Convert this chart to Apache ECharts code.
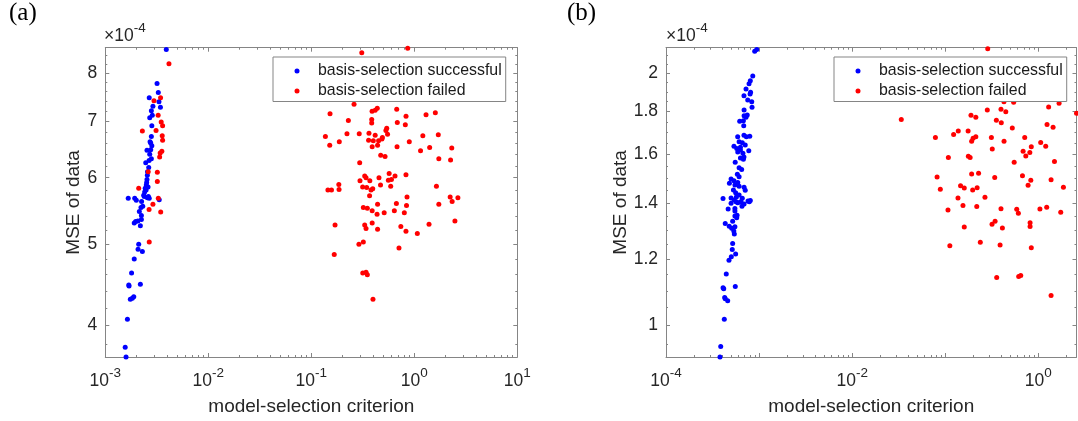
<!DOCTYPE html>
<html><head><meta charset="utf-8">
<script src="https://cdn.jsdelivr.net/npm/echarts@6/dist/echarts.min.js"></script>
<style>html,body{margin:0;padding:0;background:#fff}#c{width:1078px;height:421px}</style>
</head><body><div id="c"></div><script>
// ---------- DATA (MSE values in units of 1e-4, as shown by the axis multiplier) ----------
const seriesNames = ['basis-selection successful', 'basis-selection failed'];

// Panel (a)
const aBlueX = [0.00391,0.00318,0.00327,0.00267,0.00332,0.00343,0.00280,0.00286,0.00270,0.00283,0.00280,0.00276,0.00283,0.00254,0.00276,0.00270,0.00280,0.00266,0.00264,0.00257,0.00256,0.00254,0.00252,0.00250,0.00244,0.00241,0.00236,0.00262,0.00167,0.00193,0.00200,0.00239,0.00256,0.00267,0.00334,0.00225,0.00222,0.00214,0.00207,0.00197,0.00191,0.00219,0.00224,0.00224,0.00211,0.00208,0.00229,0.00191,0.00180,0.00169,0.00170,0.00219,0.00175,0.00189,0.00183,0.00164,0.00156,0.00159,0.00247,0.00260,0.00272,0.00290,0.00249,0.00231];
const aBlueY = [8.53,7.77,7.58,7.47,7.39,7.28,7.21,7.12,7.07,6.92,6.72,6.60,6.55,6.47,6.48,6.40,6.32,6.29,6.17,6.10,6.04,5.97,5.92,5.88,5.83,5.77,5.72,5.70,5.67,5.67,5.64,5.70,5.68,5.67,5.65,5.62,5.53,5.47,5.33,5.32,5.30,5.26,5.41,5.35,5.00,4.93,4.90,4.80,4.62,4.47,4.46,4.48,4.30,4.33,4.31,4.07,3.77,3.67,6.25,5.85,6.62,7.30,5.80,5.55];
const aRedX = [0.00415,0.00344,0.00297,0.00326,0.00349,0.00360,0.00229,0.00311,0.00357,0.00360,0.00354,0.00341,0.00337,0.00261,0.00320,0.00320,0.00211,0.00327,0.00290,0.00266,0.00345,0.00267,
  0.863,0.309,0.260,0.152,0.389,0.417,0.437,0.675,0.229,0.386,0.386,0.684,0.831,0.818,1.30,1.60,0.54,0.53,0.55,0.49,0.222,0.292,0.363,0.417,0.137,0.187,0.151,0.36,0.40,0.45,0.485,0.39,0.44,0.68,0.894,1.21,1.71,1.15,1.41,2.31,0.472,0.52,0.295,1.73,2.25,0.33,0.34,0.454,0.57,0.65,0.83,0.297,0.37,0.56,0.60,0.47,0.59,0.315,0.345,0.38,0.395,0.185,0.186,0.145,0.157,1.64,0.368,0.85,2.23,2.65,2.33,1.73,0.44,0.67,0.84,0.32,0.35,0.39,0.435,0.51,0.64,0.80,2.48,1.39,0.17,0.33,0.34,0.39,0.44,0.74,0.83,1.07,0.29,0.32,0.71,0.167,0.316,0.34,0.35,0.397];
const aRedY = [8.20,7.47,7.41,7.12,6.99,6.92,6.82,6.83,6.73,6.65,6.45,6.42,6.35,6.10,6.09,5.94,5.83,5.67,5.58,5.50,5.46,5.03,
  8.56,8.45,7.34,7.15,7.20,7.22,7.26,7.24,7.02,7.04,6.97,6.98,7.10,6.94,7.13,7.17,6.87,6.83,6.76,6.70,6.77,6.77,6.78,6.74,6.72,6.62,6.56,6.65,6.64,6.64,6.67,6.53,6.56,6.53,6.62,6.73,6.75,6.46,6.52,6.51,6.38,6.36,6.25,6.32,6.30,6.03,6.00,6.00,6.07,6.03,6.05,5.95,5.95,5.96,5.97,5.88,5.86,5.85,5.84,5.80,5.82,5.89,5.81,5.80,5.80,5.86,5.71,5.69,5.69,5.68,5.62,5.58,5.58,5.59,5.56,5.53,5.52,5.48,5.43,5.45,5.48,5.45,5.33,5.28,5.27,5.27,5.22,5.30,5.21,5.25,5.18,5.15,5.00,5.03,4.95,4.86,4.62,4.63,4.60,4.30];

// Panel (b)
const bBlueX = [8.97e-4,9.44e-4,8.55e-4,8.05e-4,7.80e-4,7.24e-4,8.1e-4,8.0e-4,6.88e-4,7.55e-4,8.34e-4,8.4e-4,6.9e-4,7.46e-4,6.9e-4,7.24e-4,6.19e-4,6.78e-4,6.84e-4,5.89e-4,6.88e-4,7.3e-4,7.94e-4,6.1e-4,6.6e-4,7.1e-4,6.3e-4,5.37e-4,5.75e-4,6.3e-4,7.75e-4,5.9e-4,6.7e-4,6.88e-4,6.3e-4,6.78e-4,5.54e-4,6.1e-4,6.5e-4,5.84e-4,6.1e-4,5.0e-4,5.37e-4,5.9e-4,4.8e-4,5.5e-4,6.1e-4,6.9e-4,7.1e-4,5.3e-4,5.6e-4,6.1e-4,5.7e-4,6.6e-4,5.0e-4,4.1e-4,7.6e-4,6.4e-4,5.4e-4,5.9e-4,5.0e-4,5.65e-4,6.3e-4,7.85e-4,6.55e-4,6.9e-4,8.05e-4,4.65e-4,5.5e-4,5.5e-4,5.8e-4,5.5e-4,5.75e-4,5.2e-4,4.33e-4,4.78e-4,5.08e-4,5.5e-4,5.35e-4,5.42e-4,5.2e-4,5.15e-4,5.6e-4,5.03e-4,4.75e-4,4.44e-4,4.1e-4,4.17e-4,5.55e-4,4.27e-4,4.33e-4,4.6e-4,4.23e-4,3.87e-4,3.8e-4];
const bBlueY = [2.125,2.136,1.986,1.960,1.944,1.916,1.898,1.889,1.880,1.858,1.850,1.822,1.808,1.783,1.780,1.772,1.753,1.756,1.732,1.680,1.687,1.680,1.682,1.657,1.652,1.642,1.632,1.637,1.627,1.620,1.617,1.611,1.605,1.589,1.585,1.579,1.566,1.543,1.535,1.515,1.505,1.496,1.489,1.481,1.478,1.471,1.466,1.462,1.450,1.451,1.440,1.431,1.424,1.419,1.420,1.418,1.408,1.405,1.412,1.401,1.399,1.405,1.404,1.405,1.388,1.396,1.410,1.377,1.379,1.370,1.354,1.351,1.345,1.332,1.324,1.314,1.306,1.312,1.297,1.286,1.253,1.232,1.217,1.208,1.196,1.152,1.109,1.106,1.113,1.080,1.076,1.070,1.017,0.944,0.917];
const bRedX = [0.286,0.0337,2.57,0.283,0.397,0.447,0.543,0.427,1.29,1.67,0.189,0.213,0.354,0.40,0.525,1.24,1.44,0.0784,0.123,0.138,0.176,0.192,0.199,0.213,0.313,0.428,0.714,0.32,1.06,1.20,0.84,0.81,0.686,0.733,1.49,0.55,0.108,0.177,0.185,0.0817,0.0885,0.192,0.228,0.34,0.675,0.83,0.776,1.37,1.86,0.146,0.16,0.197,0.22,0.137,0.267,0.107,0.155,0.218,0.397,0.586,0.61,1.04,1.23,1.74,0.16,0.318,0.343,0.411,0.815,0.815,0.112,0.238,0.388,0.84,0.357,0.615,0.647,1.37];
const bRedY = [2.140,1.762,1.792,1.808,1.812,1.800,1.847,1.850,1.823,1.842,1.782,1.772,1.758,1.746,1.721,1.737,1.724,1.677,1.691,1.707,1.707,1.659,1.673,1.680,1.677,1.659,1.677,1.624,1.654,1.637,1.634,1.609,1.614,1.593,1.570,1.566,1.587,1.592,1.587,1.504,1.454,1.516,1.520,1.502,1.509,1.491,1.470,1.493,1.462,1.468,1.459,1.451,1.460,1.420,1.423,1.374,1.391,1.387,1.378,1.376,1.361,1.377,1.384,1.365,1.311,1.321,1.332,1.307,1.326,1.313,1.245,1.257,1.248,1.238,1.141,1.144,1.147,1.086];

// Axis ranges and ticks
const aXRange = [1e-3, 10], aYRange = [3.67, 8.57];
const bXRange = [1e-4, 2.57], bYRange = [0.917, 2.146];
const aXTickExp = [-3, -2, -1, 0, 1], aXLabelExp = [-3, -2, -1, 0, 1];
const bXTickExp = [-4, -3, -2, -1, 0], bXLabelExp = [-4, -2, 0];
const aYTicks = [4, 5, 6, 7, 8];
const aYMinor = [3.8,4.2,4.4,4.6,4.8,5.2,5.4,5.6,5.8,6.2,6.4,6.6,6.8,7.2,7.4,7.6,7.8,8.2,8.4];
const bYTicks = [1, 1.2, 1.4, 1.6, 1.8, 2];
const bYMinor = [0.95,1.05,1.1,1.15,1.25,1.3,1.35,1.45,1.5,1.55,1.65,1.7,1.75,1.85,1.9,1.95,2.05,2.1];
const yMultiplier = '×10{s|-4}';

// ---------- CHART ----------
const FONT = '"Liberation Sans", Arial, Helvetica, sans-serif';
const SERIF = '"Liberation Serif", "Times New Roman", serif';
const TXT = '#262626', AX = '#858585';
const L = Math.log10;

function minorLog(range) {
  const out = [];
  const lo = Math.floor(L(range[0])), hi = Math.ceil(L(range[1]));
  for (let e = lo; e < hi; e++) for (let m = 2; m <= 9; m++) {
    const v = m * Math.pow(10, e);
    if (v > range[0] && v < range[1]) out.push(L(v));
  }
  return out;
}
const xFmt = v => '{b|10}{s|' + Math.round(v) + '}';
const yFmt = v => String(Math.round(Math.pow(10, v) * 100) / 100);
const richX = {
  b: { fontSize: 17.5, fontFamily: FONT, color: TXT },
  s: { fontSize: 13.5, fontFamily: FONT, color: TXT, padding: [0, 0, 16, 0] }
};

function axes(dim, grid, range, majors, labels, minors, fmt, name, nameGap) {
  const pos = dim === 'x' ? ['bottom', 'top'] : ['left', 'right'];
  const base = { gridIndex: grid, type: 'value', min: L(range[0]), max: L(range[1]), splitLine: { show: false }, silent: true };
  const line = { show: true, onZero: false, lineStyle: { color: AX, width: 1 } };
  const noLine = { show: false, onZero: false };
  const maj = { show: true, inside: true, length: 4, customValues: majors, lineStyle: { color: AX, width: 1 } };
  const mnr = { show: true, inside: true, length: 2, customValues: minors, lineStyle: { color: AX, width: 1 } };
  const lbl = dim === 'x'
    ? { show: true, customValues: labels, formatter: fmt, margin: 9, rich: richX, fontSize: 17.5, fontFamily: FONT, color: TXT }
    : { show: true, customValues: labels, formatter: fmt, margin: 8, fontSize: 17.5, fontFamily: FONT, color: TXT };
  return [
    Object.assign({}, base, { position: pos[0], axisLine: line, axisTick: maj, axisLabel: lbl,
      name: name, nameLocation: 'middle', nameGap: nameGap,
      nameTextStyle: { fontSize: 19, fontFamily: FONT, color: TXT } }),
    Object.assign({}, base, { position: pos[0], axisLine: noLine, axisTick: mnr, axisLabel: { show: false } }),
    Object.assign({}, base, { position: pos[1], axisLine: line, axisTick: maj, axisLabel: { show: false } }),
    Object.assign({}, base, { position: pos[1], axisLine: noLine, axisTick: mnr, axisLabel: { show: false } })
  ];
}

const xAxis = [].concat(
  axes('x', 0, aXRange, aXTickExp, aXLabelExp, minorLog(aXRange), xFmt, 'model-selection criterion', 40),
  axes('x', 1, bXRange, bXTickExp, bXLabelExp, minorLog(bXRange), xFmt, 'model-selection criterion', 40)
);
const yAxis = [].concat(
  axes('y', 0, aYRange, aYTicks.map(L), aYTicks.map(L), aYMinor.map(L), yFmt, 'MSE of data', 17),
  axes('y', 1, bYRange, bYTicks.map(L), bYTicks.map(L), bYMinor.map(L), yFmt, 'MSE of data', 34)
);

const pts = (xs, ys) => xs.map((x, i) => [L(x), L(ys[i])]);
function scatter(name, color, xs, ys, axisIdx) {
  return { type: 'scatter', name, xAxisIndex: axisIdx, yAxisIndex: axisIdx, data: pts(xs, ys),
    symbol: 'circle', symbolSize: 5, itemStyle: { color: color, opacity: 1 }, silent: true };
}

function legend(left) {
  return { left: left, top: 57, orient: 'vertical', data: seriesNames, icon: 'circle',
    itemWidth: 32, itemHeight: 5, itemGap: 1, padding: [4.5, 4, 1, 21.5],
    borderColor: AX, borderWidth: 1, borderRadius: 0, backgroundColor: '#fff',
    textStyle: { fontSize: 15.9, fontFamily: FONT, color: '#1a1a1a', lineHeight: 19 },
    selectedMode: false };
}

const chart = echarts.init(document.getElementById('c'), null, { renderer: 'canvas' });
chart.setOption({
  animation: false,
  backgroundColor: '#fff',
  grid: [
    { left: 105.3, top: 47.7, width: 412, height: 309.3, containLabel: false, outerBoundsMode: 'none' },
    { left: 666, top: 47.7, width: 410.5, height: 309.3, containLabel: false, outerBoundsMode: 'none' }
  ],
  xAxis: xAxis,
  yAxis: yAxis,
  legend: [legend(273), legend(834)],
  series: [
    scatter(seriesNames[0], '#0000ff', aBlueX, aBlueY, 0),
    scatter(seriesNames[1], '#ff0000', aRedX, aRedY, 0),
    scatter(seriesNames[0], '#0000ff', bBlueX, bBlueY, 4),
    scatter(seriesNames[1], '#ff0000', bRedX, bRedY, 4)
  ],
  graphic: [
    { type: 'text', x: 9, y: 13, style: { text: '(a)', fontSize: 25, fontFamily: SERIF, fill: '#000', verticalAlign: 'middle', align: 'left' } },
    { type: 'text', x: 567, y: 13, style: { text: '(b)', fontSize: 25, fontFamily: SERIF, fill: '#000', verticalAlign: 'middle', align: 'left' } },
    { type: 'text', x: 104, y: 36.5, style: { text: yMultiplier, fontSize: 17.5, fontFamily: FONT, fill: TXT, verticalAlign: 'middle', align: 'left',
      rich: { s: { fontSize: 13.5, fontFamily: FONT, fill: TXT, padding: [0, 0, 16, 0] } } } },
    { type: 'text', x: 666, y: 36.5, style: { text: yMultiplier, fontSize: 17.5, fontFamily: FONT, fill: TXT, verticalAlign: 'middle', align: 'left',
      rich: { s: { fontSize: 13.5, fontFamily: FONT, fill: TXT, padding: [0, 0, 16, 0] } } } }
  ]
});
</script></body></html>
